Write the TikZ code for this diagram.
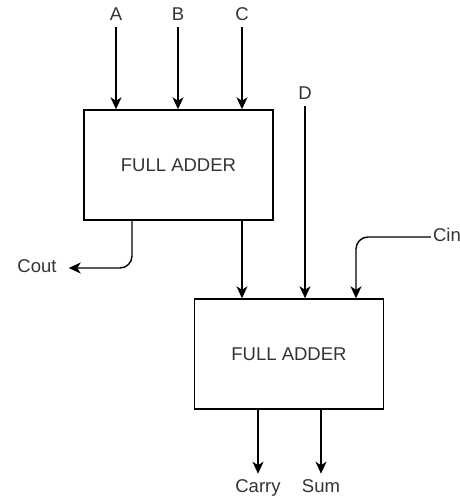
\documentclass[tikz,border=0pt]{standalone}
\usepackage{fontspec}
\setmainfont{Liberation Sans}
\usetikzlibrary{arrows.meta,positioning,calc}

\begin{document}
\begin{tikzpicture}[
  x=1pt,y=-1pt,
  font=\fontsize{18.5}{22}\selectfont,>={Stealth[length=12pt,width=11pt,inset=3.5pt]},
  block/.style={draw,line width=1.4pt,minimum width=189pt,minimum height=110pt,text=black!80},
  lbl/.style={inner sep=7pt,text height=1.55ex,text depth=0pt,text=black!80},
  wire/.style={line width=1.4pt,->}
]
\useasboundingbox (0,0) rectangle (460,501);
% the two adders
\node[block] (fa1) at (178.5,165) {FULL ADDER};
\node[block] (fa2) at (289,354) {FULL ADDER};
% inputs and outputs
\node[lbl] (a) at (116,16) {A};
\node[lbl] (b) at (178,16) {B};
\node[lbl] (c) at (242,16) {C};
\node[lbl] (d) at (305,95) {D};
\node[lbl,inner sep=2pt] (cin) at (447,237) {Cin};
\node[lbl,inner sep=12pt] (cout) at (37,268) {Cout};
\node[lbl,inner sep=10pt] (carry) at (258,488) {Carry};
\node[lbl,inner sep=10pt] (sum) at (321,488) {Sum};
\draw[wire] (a) -- (a |- fa1.north);
\draw[wire] (b) -- (b |- fa1.north);
\draw[wire] (c) -- (c |- fa1.north);
\draw[wire] (c |- fa1.south) -- (c |- fa2.north);
\draw[wire] (d) -- (d |- fa2.north);
\draw[wire,rounded corners=12pt] (cin.west) -| ([xshift=67pt]fa2.north);
\draw[wire,rounded corners=12pt] ([xshift=-46.5pt]fa1.south) |- (cout);
\draw[wire] (carry |- fa2.south) -- (carry);
\draw[wire] (sum |- fa2.south) -- (sum);
\end{tikzpicture}
\end{document}
